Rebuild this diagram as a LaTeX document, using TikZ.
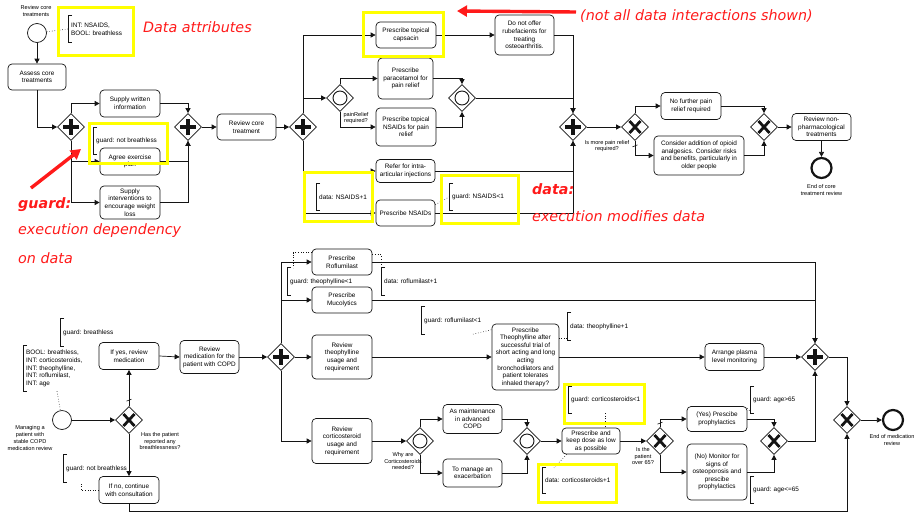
\documentclass[tikz,border=0pt]{standalone}
\usepackage{fontspec}
\setmainfont{Liberation Sans}
\newfontfamily\notefont{DejaVu Sans}
\usetikzlibrary{arrows.meta,shapes.geometric}
\definecolor{ink}{HTML}{141414}
\definecolor{marker}{HTML}{FFFF00}
\definecolor{alert}{HTML}{FF1A1A}

\begin{document}
\begin{tikzpicture}[x=1pt,y=-1pt,font=\fontsize{6.4}{7.6}\selectfont,
   task/.style={draw=ink,line width=0.7pt,rounded corners=4pt,fill=white,
     align=center,inner sep=1pt,minimum width=60pt,minimum height=27pt},
   gw/.style={diamond,draw=ink,line width=0.7pt,fill=white,inner sep=0pt,
     minimum width=27pt,minimum height=27pt},
   andgw/.style={gw,path picture={\draw[line width=3.4pt]
       (path picture bounding box.center) +(-8,0) -- +(8,0) +(0,-8) -- +(0,8);}},
   xorgw/.style={gw,path picture={\draw[line width=2.8pt]
       (path picture bounding box.center) +(-5.5,-6) -- +(5.5,6) +(5.5,-6) -- +(-5.5,6);}},
   orgw/.style={gw,path picture={\draw[line width=0.9pt]
       (path picture bounding box.center) circle (7pt);}},
   startev/.style={circle,draw=ink,line width=0.7pt,fill=white,minimum size=19pt,inner sep=0pt},
   endev/.style={startev,line width=2.2pt,minimum size=20pt},
   flow/.style={-{Triangle[length=5pt,width=5pt]},draw=ink,line width=0.7pt},
   assoc/.style={draw=ink,line width=0.6pt,dotted},
   dflt/.style={draw=ink,line width=0.6pt},
   brk/.style={draw=ink,line width=0.7pt},
   annot/.style={anchor=west,align=left,inner xsep=3pt,inner ysep=0pt,minimum height=27pt},
   gwtext/.style={align=center,inner sep=0pt,font=\fontsize{5.6}{6.6}\selectfont},
   hl/.style={draw=marker,line width=3pt,inner sep=0pt},
   callout/.style={anchor=west,inner sep=0pt,text=alert,font=\notefont\itshape\fontsize{14.3}{16}\selectfont},
   pointer/.style={-{Triangle[length=10pt,width=11pt]},draw=alert,line width=3.4pt}]
 \useasboundingbox (0,0) rectangle (916,512);

 % core treatment review
 \node[startev] (s1) at (37,33) {};
 \node[gwtext] (s1l) at (36,11) {Review core\\treatments};
 \node[task,minimum width=58pt,minimum height=26pt] (t1) at (37,77) {Assess core\\treatments};
 \node[andgw] (g1) at (71,127) {};
 \node[task] (t2) at (130,103.5) {Supply written\\information};
 \node[task] (t3) at (130,161.5) {Agree exercise\\plan};
 \node[task,minimum height=33pt] (t4) at (130,202.5) {Supply\\interventions to\\encourage weight\\loss};
 \node[andgw] (g2) at (188,127) {};
 \node[task,minimum width=59pt,minimum height=26pt] (t5) at (246.5,127) {Review core\\treatment};
 \node[andgw] (g3) at (303,127) {};
 \node[task,minimum height=26pt] (t6) at (406,35) {Prescribe topical\\capsacin};
 \node[task,minimum width=59pt,minimum height=40pt] (t7) at (524.5,35) {Do not offer\\rubefacients for\\treating\\osteoarthritis.};
 \node[orgw] (g4) at (340,98) {};
 \node[gwtext] (g4l) at (356,118) {painRelief\\required?};
 \node[task,minimum width=55pt,minimum height=41pt] (t8) at (405.5,78.5) {Prescribe\\paracetamol for\\pain relief};
 \node[task,minimum height=38pt] (t9) at (406,127) {Prescribe topical\\NSAIDs for pain\\relief};
 \node[orgw] (g5) at (462,98) {};
 \node[task,minimum width=59pt,minimum height=23pt] (t10) at (405.5,171) {Refer for intra-\\articular injections};
 \node[task,minimum width=59pt,minimum height=26pt] (t11) at (405.5,213) {Prescribe NSAIDs};
 \node[andgw] (g6) at (573,127) {};
 \node[xorgw] (g7) at (635,127) {};
 \node[gwtext] (g7l) at (607,146) {Is more pain relief\\required?};
 \node[task] (t12) at (691,106) {No further pain\\relief required};
 \node[task,minimum width=90pt,minimum height=39pt] (t13) at (699,155.5) {Consider addition of opioid\\analgesics. Consider risks\\and benefits, particularly in\\older people};
 \node[xorgw] (g8) at (764,127) {};
 \node[task,minimum width=59pt] (t14) at (821.5,127) {Review non-\\pharmacological\\treatments};
 \node[endev] (e1) at (821.5,168) {};
 \node[gwtext] (e1l) at (821.5,190) {End of core\\treatment review};

 \node[annot,minimum height=26pt] (a1) at (68,29) {INT: NSAIDS,\\BOOL: breathless};
 \node[annot] (a2) at (93,141) {guard: not breathless};
 \node[annot] (a3) at (316,197) {data: NSAIDS+1};
 \node[annot] (a4) at (449,197) {guard: NSAIDS<1};

 \draw[flow] (s1.south) -- (t1.north);
 \draw[flow] (t1.south) |- (g1.west);
 \draw[flow] (g1.north) |- (t2.west);
 \draw[flow] (g1.south) |- (t3.west);
 \draw[flow] (g1.south) |- (t4.west);
 \draw[flow] (t2.east) -| (g2.north);
 \draw[flow] (t3.east) -| (g2.south);
 \draw[flow] (t4.east) -| (g2.south);
 \draw[flow] (g2.east) -- (t5.west);
 \draw[flow] (t5.east) -- (g3.west);
 \draw[flow] (g3.north) |- (t6.west);
 \draw[flow] (g3.north) |- (g4.west);
 \draw[flow] (g4.north) |- (t8.west);
 \draw[flow] (g4.south) |- (t9.west);
 \draw[flow] (t8.east) -| (g5.north);
 \draw[flow] (t9.east) -| (g5.south);
 \draw[flow] (t6.east) -- (t7.west);
 \draw[flow] (t7.east) -| (g6.north);
 \draw[flow] (g5.east) -| (g6.north);
 \draw[flow] (g3.south) |- (t10.west);
 \draw[flow] (g3.south) |- (t11.west);
 \draw[flow] (t10.east) -| (g6.south);
 \draw[flow] (t11.east) -| (g6.south);
 \draw[flow] (g6.east) -- (g7.west);
 \draw[flow] (g7.north) |- (t12.west);
 \draw[flow] (g7.south) |- (t13.west);
 \draw[flow] (t12.east) -| (g8.north);
 \draw[flow] (t13.east) -| (g8.south);
 \draw[flow] (g8.east) -- (t14.west);
 \draw[flow] (t14.south) -- (e1.north);
 \draw[dflt] ([yshift=-5pt]g7.south) +(-2.5,1) -- +(2.5,-1);

 \draw[assoc] (s1) -- (a1.west);
 \draw[assoc] ([yshift=-5pt]t11.north east) -- (a4.west);

 % COPD medication review
 \node[startev] (s2) at (62,420) {};
 \node[gwtext,font=\fontsize{5.6}{6.8}\selectfont] (s2l) at (30,438) {Managing a\\patient with\\stable COPD\\medication review};
 \node[xorgw] (g9) at (129,420) {};
 \node[gwtext] (g9l) at (160,441) {Has the patient\\reported any\\breathlessness?};
 \node[task] (t15) at (129,356) {If yes, review\\medication};
 \node[task] (t16) at (129,490) {If no, continue\\with consultation};
 \node[task,minimum width=59pt,minimum height=33pt] (t17) at (209.5,357) {Review\\medication for the\\patient with COPD};
 \node[andgw] (g10) at (281,357) {};
 \node[task,minimum height=26pt] (t18) at (342,262) {Prescribe\\Roflumilast};
 \node[task,minimum height=26pt] (t19) at (342,300) {Prescribe\\Mucolytics};
 \node[task,minimum height=44pt] (t20) at (342,357) {Review\\theophylline\\usage and\\requirement};
 \node[task,minimum height=45pt] (t21) at (342,441) {Review\\corticosteroid\\usage and\\requirement};
 \node[task,minimum width=67pt,minimum height=66pt] (t22) at (525.5,357) {Prescribe\\Theophylline after\\successful trial of\\short acting and long\\acting\\bronchodilators and\\patient tolerates\\inhaled therapy?};
 \node[task,minimum width=59pt] (t23) at (734.5,357) {Arrange plasma\\level monitoring};
 \node[andgw] (g11) at (815,357) {};
 \node[orgw] (g12) at (420,441) {};
 \node[gwtext] (g12l) at (403,461) {Why are\\Corticosteroids\\needed?};
 \node[task,minimum width=59pt,minimum height=29pt] (t24) at (472.5,419) {As maintenance\\in advanced\\COPD};
 \node[task,minimum width=59pt,minimum height=28pt] (t25) at (472.5,473) {To manage an\\exacerbation};
 \node[orgw] (g13) at (527,441) {};
 \node[task,minimum width=58pt,minimum height=26pt] (t26) at (591,441) {Prescribe and\\keep dose as low\\as possible};
 \node[xorgw] (g14) at (660,441) {};
 \node[gwtext] (g14l) at (643,456) {Is the\\patient\\over 65?};
 \node[task,minimum height=25pt] (t27) at (717,419) {(Yes) Prescibe\\prophylactics};
 \node[task,minimum height=56pt] (t28) at (717,472) {(No) Monitor for\\signs of\\osteoporosis and\\prescibe\\prophylactics};
 \node[xorgw] (g15) at (774,441) {};
 \node[xorgw] (g16) at (847,420) {};
 \node[endev] (e2) at (893,420) {};
 \node[gwtext] (e2l) at (892,440) {End of medication\\review};

 \node[annot,minimum height=45pt] (a5) at (23,368.5) {BOOL: breathless,\\INT: corticosteroids,\\INT: theophylline,\\INT: roflumilast,\\INT: age};
 \node[annot] (a6) at (60,332.5) {guard: breathless};
 \node[annot] (a7) at (63,468.5) {guard: not breathless};
 \node[annot] (a8) at (287,281.5) {guard: theophylline<1};
 \node[annot] (a9) at (381,281.5) {data: roflumilast+1};
 \node[annot] (a10) at (421,320.5) {guard: roflumilast<1};
 \node[annot] (a11) at (567,326.5) {data: theophylline+1};
 \node[annot,minimum height=26pt] (a12) at (568,400) {guard: corticosteroids<1};
 \node[annot,minimum height=25pt] (a13) at (542,480.5) {data: corticosteroids+1};
 \node[annot,minimum height=26pt] (a14) at (750,400) {guard: age>65};
 \node[annot,minimum height=26pt] (a15) at (750,490) {guard: age<=65};

 \draw[flow] (s2.east) -- (g9.west);
 \draw[flow] (g9.north) -- (t15.south);
 \draw[flow] (g9.south) -- (t16.north);
 \draw[flow] (t15.east) -- (t17.west);
 \draw[flow] (t17.east) -- (g10.west);
 \draw[flow] (g10.north) |- (t18.west);
 \draw[flow] (g10.north) |- (t19.west);
 \draw[flow] (g10.east) -- (t20.west);
 \draw[flow] (g10.south) |- (t21.west);
 \draw[flow] (t18.east) -| (g11.north);
 \draw[flow] (t19.east) -| (g11.north);
 \draw[flow] (t20.east) -- (t22.west);
 \draw[flow] (t22.east) -- (t23.west);
 \draw[flow] (t23.east) -- (g11.west);
 \draw[flow] (t21.east) -- (g12.west);
 \draw[flow] (g12.north) |- (t24.west);
 \draw[flow] (g12.south) |- (t25.west);
 \draw[flow] (t24.east) -| (g13.north);
 \draw[flow] (t25.east) -| (g13.south);
 \draw[flow] (g13.east) -- (t26.west);
 \draw[flow] (t26.east) -- (g14.west);
 \draw[flow] (g14.north) |- (t27.west);
 \draw[flow] (g14.south) |- (t28.west);
 \draw[flow] (t27.east) -| (g15.north);
 \draw[flow] (t28.east) -| (g15.south);
 \draw[flow] (g15.east) -| (g11.south);
 \draw[flow] (g11.east) -| (g16.north);
 \draw[flow] (t16.south) -- ++(0,7) -| (g16.south);
 \draw[flow] (g16.east) -- (e2.west);
 \draw[dflt] ([yshift=6pt]g9.north) +(-2.5,1) -- +(2.5,-1);
 \draw[dflt] ([yshift=4pt]g14.north) +(-2.5,1) -- +(2.5,-1);

 \draw[assoc] ([xshift=34pt]a5.south west) -- (s2);
 \draw[assoc] ([shift={(48pt,4pt)}]a6.south west) -- ++(15,0);
 \draw[assoc] (t16.west) -| ([xshift=18pt]a7.south west);
 \draw[assoc] ([yshift=-4pt]t18.north west) -| ([xshift=6pt]a8.north west);
 \draw[assoc] ([yshift=-6pt]t18.north east) -| (a9.north west);
 \draw[assoc] ([xshift=52pt]a10.south west) -- ([yshift=-6pt]t22.north west);
 \draw[assoc] ([yshift=2pt]a11.south west) -- ++(-8,0);
 \draw[assoc] ([xshift=37pt]a12.south west) -- ([xshift=14pt]t26.north);
 \draw[assoc] ([xshift=5pt]t26.south west) -- ([xshift=12pt]a13.north west);
 \draw[assoc] ([yshift=-2pt]t27.north east) -- ([yshift=2pt]a14.south west);

 \foreach \n in {a1,a2,a3,a4,a5,a6,a7,a8,a9,a10,a11,a12,a13,a14,a15}
   \draw[brk] ([xshift=4pt]\n.north west) -| (\n.south west) -- ++(4,0);

 % highlights and callouts
 \node[hl,minimum width=74.5pt,minimum height=47.5pt] (y1) at (95.75,31.25) {};
 \node[hl,minimum width=78pt,minimum height=40pt] (y2) at (128,143) {};
 \node[hl,minimum width=80pt,minimum height=44pt] (y3) at (403,34) {};
 \node[hl,minimum width=68pt,minimum height=49pt] (y4) at (338,196.5) {};
 \node[hl,minimum width=77pt,minimum height=48pt] (y5) at (479.5,199) {};
 \node[hl,minimum width=80pt,minimum height=39pt] (y6) at (604,403.5) {};
 \node[hl,minimum width=78pt,minimum height=38pt] (y7) at (577,483) {};

 \node[callout] (c1) at (143,27) {Data attributes};
 \node[callout] (c2) at (580,16) {(not all data interactions shown)};
 \node[callout] (c3) at (18,205) {\bfseries guard:};
 \node[callout] (c4) at (18,231) {execution dependency};
 \node[callout] (c5) at (18,258) {on data};
 \node[callout] (c6) at (532,189) {\bfseries data:};
 \node[callout] (c7) at (532,216) {execution modifies data};
 \coordinate (p1) at (576,12);
 \coordinate (p2) at (457,11);
 \coordinate (p3) at (31,188);
 \coordinate (p4) at (81,149);
 \draw[pointer] (p1) -- (p2);
 \draw[pointer] (p3) -- (p4);
\end{tikzpicture}
\end{document}
